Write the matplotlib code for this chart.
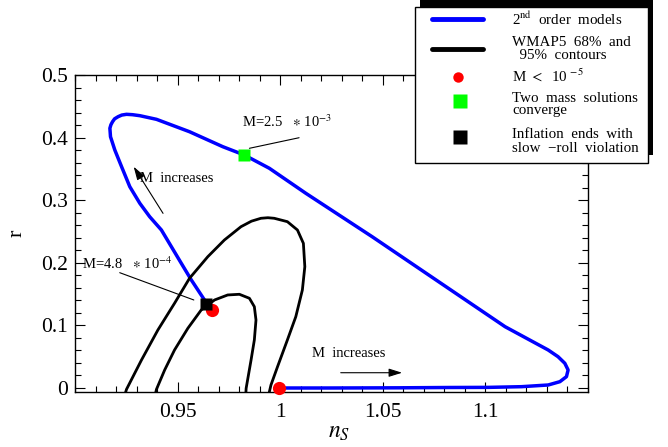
import matplotlib
matplotlib.use('Agg')
import matplotlib.pyplot as plt
from matplotlib.patches import Rectangle
from matplotlib.lines import Line2D
from matplotlib.ticker import FixedLocator

plt.rcParams['font.family'] = ['Liberation Serif', 'DejaVu Serif']
plt.rcParams['mathtext.fontset'] = 'stix'

# 2nd order models (M increasing along the curve)
model_ns = [0.9995, 1.0238, 1.0578, 1.0820, 1.1015, 1.1176, 1.1306, 1.1363, 1.1395,
            1.1403, 1.1387, 1.1354, 1.1306, 1.1096, 1.0772, 1.0448, 1.0125, 0.9947,
            0.9825, 0.9720, 0.9558, 0.9397, 0.9316, 0.9280, 0.9251, 0.9228, 0.9210,
            0.9193, 0.9183, 0.9175, 0.9170, 0.9173, 0.9194, 0.9227, 0.9267, 0.9316,
            0.9364, 0.9421, 0.9518, 0.9567, 0.9631, 0.9639]
model_r = [0.0000, 0.0000, 0.0003, 0.0008, 0.0010, 0.0021, 0.0048, 0.0101, 0.0181,
           0.0288, 0.0395, 0.0500, 0.0607, 0.0979, 0.1698, 0.2417, 0.3110, 0.3510,
           0.3722, 0.3855, 0.4094, 0.4292, 0.4350, 0.4366, 0.4372, 0.4360, 0.4334,
           0.4300, 0.4254, 0.4205, 0.4149, 0.4014, 0.3802, 0.3535, 0.3216, 0.2950,
           0.2736, 0.2524, 0.1992, 0.1725, 0.1406, 0.1342]

# WMAP5 95% contour
c95_ns = [0.9247, 0.9251, 0.9324, 0.9404, 0.9485, 0.9558, 0.9647, 0.9728, 0.9809,
          0.9860, 0.9906, 0.9940, 0.9971, 1.0035, 1.0084, 1.0113, 1.0120, 1.0108,
          1.0076, 1.0035, 0.9987, 0.9955, 0.9947]
c95_r = [-0.0064, -0.0021, 0.0447, 0.0927, 0.1353, 0.1752, 0.2097, 0.2364, 0.2577,
         0.2665, 0.2711, 0.2720, 0.2711, 0.2657, 0.2524, 0.2311, 0.1938, 0.1565,
         0.1139, 0.0767, 0.0340, 0.0048, -0.0064]

# WMAP5 68% contour
c68_ns = [0.9394, 0.9397, 0.9437, 0.9485, 0.9550, 0.9615, 0.9680, 0.9744, 0.9801,
          0.9850, 0.9874, 0.9882, 0.9874, 0.9858, 0.9834, 0.9833]
c68_r = [-0.0064, -0.0021, 0.0288, 0.0607, 0.0954, 0.1246, 0.1406, 0.1486, 0.1497,
         0.1433, 0.1299, 0.1086, 0.0767, 0.0447, -0.0005, -0.0064]

small_m_ns = [0.9995, 0.9666]
small_m_r = [0.0, 0.1246]
converge_ns = [0.9825]
converge_r = [0.3722]
violation_ns = [0.9639]
violation_r = [0.1342]

xticks = [0.95, 1.0, 1.05, 1.1]
xtick_labels = ['0.95', '1', '1.05', '1.1']
yticks = [0, 0.1, 0.2, 0.3, 0.4, 0.5]
ytick_labels = ['0', '0.1', '0.2', '0.3', '0.4', '0.5']

fig = plt.figure(figsize=(6.68, 4.47), dpi=100)
ax = fig.add_axes([75 / 668, 55 / 447, 513 / 668, 317 / 447])

ax.plot(model_ns, model_r, color='#0000ff', lw=2.5, solid_joinstyle='round', zorder=2)
ax.plot(c95_ns, c95_r, color='black', lw=2, solid_joinstyle='round', zorder=3)
ax.plot(c68_ns, c68_r, color='black', lw=2, solid_joinstyle='round', zorder=3)
ax.plot(small_m_ns, small_m_r, 'o', color='red', ms=9.5, mec='none', zorder=4, clip_on=False)
ax.plot(converge_ns, converge_r, 's', color='#00ff00', ms=9, mec='none', zorder=5)
ax.plot(violation_ns, violation_r, 's', color='black', ms=9, mec='none', zorder=5)

ax.set_xlim(0.9, 1.15)
ax.set_ylim(-0.0064, 0.5)
ax.xaxis.set_major_locator(FixedLocator(xticks))
ax.xaxis.set_minor_locator(FixedLocator([0.9 + 0.01 * i for i in range(26)]))
ax.yaxis.set_major_locator(FixedLocator(yticks))
ax.yaxis.set_minor_locator(FixedLocator([0.02 * i for i in range(26)]))
ax.set_xticklabels(xtick_labels)
ax.set_yticklabels(ytick_labels)
ax.tick_params(which='both', direction='in', top=True, right=True, width=0.8)
ax.tick_params(which='major', length=7)
ax.tick_params(which='minor', length=4)
ax.tick_params(axis='x', labelsize=15.5, pad=8)
ax.tick_params(axis='y', labelsize=15.5, pad=5)
for s in ax.spines.values():
    s.set_linewidth(1)

ax.set_xlabel(r'$n_S$', fontsize=17)
ax.xaxis.set_label_coords(0.515, -0.095)
ax.set_ylabel('r', fontsize=16)
ax.yaxis.set_label_coords(-0.095, 0.5)

# annotations
ax.text(0.9816, 0.4174, r'M=2.5   $\ast$ 10$^{-3}$', fontsize=10.5, va='baseline')
ax.annotate('', xy=(1.0092, 0.3998), xytext=(0.9850, 0.3829),
            arrowprops=dict(arrowstyle='-', color='black', lw=0.8, shrinkA=0, shrinkB=0))
ax.text(0.9033, 0.1896, r'M=4.8   $\ast$ 10$^{-4}$', fontsize=10.5, va='baseline', zorder=1)
ax.annotate('', xy=(0.9579, 0.1406), xytext=(0.9218, 0.1842),
            arrowprops=dict(arrowstyle='-', color='black', lw=0.8, shrinkA=0, shrinkB=0))
ax.text(0.9319, 0.3286, 'M  increases', fontsize=10.5, va='baseline')
ax.annotate('', xy=(0.9286, 0.3535), xytext=(0.9429, 0.2790),
            arrowprops=dict(arrowstyle='-|>,head_length=0.8,head_width=0.25',
                            color='black', lw=0.8, shrinkA=0, shrinkB=0))
ax.text(1.0157, 0.0500, 'M  increases', fontsize=10.5, va='baseline')
ax.annotate('', xy=(1.0594, 0.0244), xytext=(1.0295, 0.0244),
            arrowprops=dict(arrowstyle='-|>,head_length=0.8,head_width=0.25',
                            color='black', lw=0.8, shrinkA=0, shrinkB=0))


# legend, drawn by hand in figure pixels (y from the top)
def fx(x):
    return x / 668


def fy(y):
    return 1 - y / 447


fig.patches.append(Rectangle((fx(420), fy(155)), 233 / 668, 155 / 447,
                             transform=fig.transFigure, facecolor='black',
                             edgecolor='none', zorder=10))
fig.patches.append(Rectangle((fx(415), fy(163)), 233 / 668, 156 / 447,
                             transform=fig.transFigure, facecolor='white',
                             edgecolor='black', lw=1, zorder=11))
fig.lines.append(Line2D([fx(432), fx(483)], [fy(19), fy(19)], transform=fig.transFigure,
                        color='#0000ff', lw=3.5, solid_capstyle='round', zorder=12))
fig.lines.append(Line2D([fx(432), fx(483)], [fy(49), fy(49)], transform=fig.transFigure,
                        color='black', lw=3.5, solid_capstyle='round', zorder=12))
fig.lines.append(Line2D([fx(458)], [fy(77)], transform=fig.transFigure, marker='o',
                        color='red', ms=7.5, mec='none', zorder=12))
fig.lines.append(Line2D([fx(460)], [fy(101)], transform=fig.transFigure, marker='s',
                        color='#00ff00', ms=10, mec='none', zorder=12))
fig.lines.append(Line2D([fx(460)], [fy(137)], transform=fig.transFigure, marker='s',
                        color='black', ms=10, mec='none', zorder=12))

legend_lines = [
    (r'2$^{\mathrm{nd}}$  order  models', 25),
    ('WMAP5  68%  and', 45.5),
    ('  95%  contours', 59),
    (r'M $<$  10$^{\,-5}$', 81.5),
    ('Two  mass  solutions', 102.5),
    ('converge', 114),
    ('Inflation  ends  with', 138),
    ('slow  \u2212roll  violation', 151.5),
]
for txt, yb in legend_lines:
    fig.text(fx(512), fy(yb), txt, fontsize=10.8, va='baseline', zorder=13)

fig.savefig('out.png', dpi=100)
